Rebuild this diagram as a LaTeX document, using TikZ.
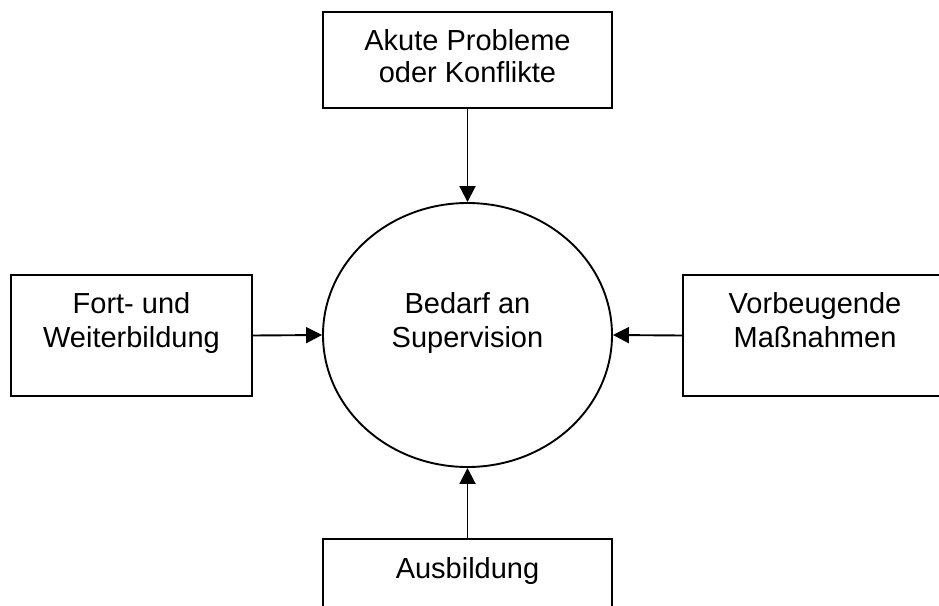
\documentclass[tikz,border=0pt]{standalone}
\usepackage{fontspec}
\setmainfont{Liberation Sans}
\usetikzlibrary{arrows.meta,shapes.geometric}
\tikzset{
  box/.style={draw, rectangle, inner sep=0pt, line width=1.9pt},
  ring/.style={draw, ellipse, inner sep=0pt, line width=1.9pt, minimum width=289pt, minimum height=264pt},
  arr/.style={line width=1.9pt, -{Triangle[length=16pt,width=16pt]}},
  txt/.style={anchor=base, inner sep=0pt, font=\fontsize{29}{33}\selectfont}
}
\begin{document}
\begin{tikzpicture}[x=1pt,y=-1pt]
\useasboundingbox (0,0) rectangle (939,605);
\clip (0,0) rectangle (939,605);
\node[ring] (circ) at (467.5,335) {};
\node[box, minimum width=289pt, minimum height=96pt] (top) at (467.5,60) {};
\node[box, minimum width=241pt, minimum height=121pt] (left) at (131.5,335.5) {};
\node[box, minimum width=264pt, minimum height=121pt] (right) at (815,335.5) {};
\node[box, minimum width=289pt, minimum height=121pt] (bot) at (467.5,599.5) {};
\draw[arr] (top.south) -- (circ.north);
\draw[arr] (left.east) -- (circ.west);
\draw[arr] (right.west) -- (circ.east);
\draw[arr] (bot.north) -- (circ.south);
\node[txt] (t1) at (467.5,50) {Akute Probleme};
\node[txt] (t2) at (467.5,82) {oder Konflikte};
\node[txt] (l1) at (131.5,313) {Fort- und};
\node[txt] (l2) at (131.5,347) {Weiterbildung};
\node[txt] (r1) at (815,313) {Vorbeugende};
\node[txt] (r2) at (815,347) {Maßnahmen};
\node[txt] (c1) at (467.5,313) {Bedarf an};
\node[txt] (c2) at (467.5,347) {Supervision};
\node[txt] (b1) at (467.5,578) {Ausbildung};
\end{tikzpicture}
\end{document}
